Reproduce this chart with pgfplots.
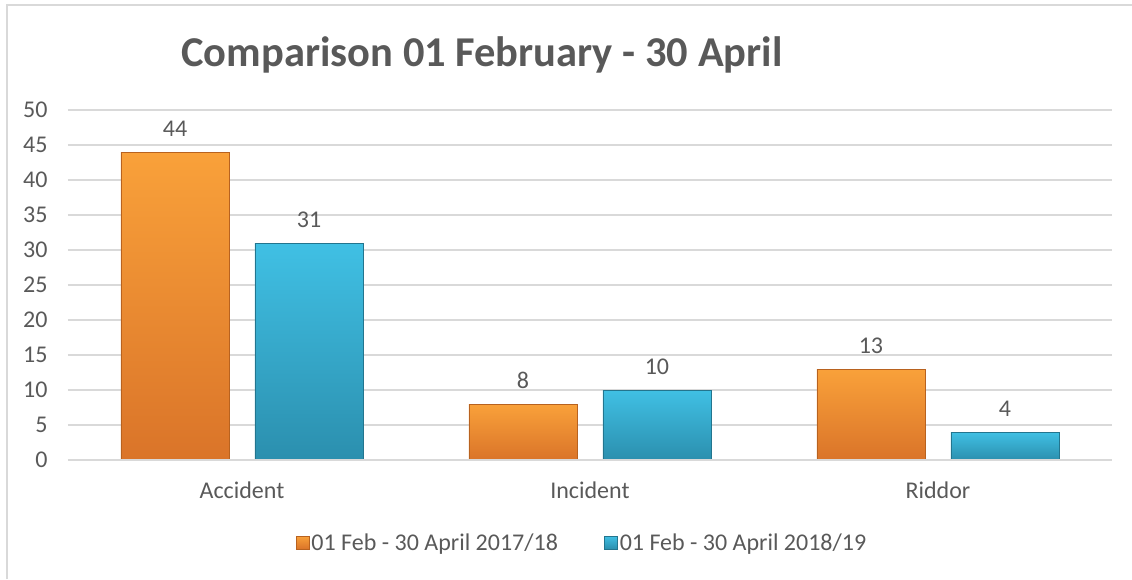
\documentclass[border=0pt]{standalone}
\usepackage{pgfplots}
\pgfplotsset{compat=1.18}
\usepackage{fontspec}
\setmainfont{Carlito}
\definecolor{txt}{HTML}{595959}
\definecolor{gridc}{HTML}{D9D9D9}
\definecolor{orT}{HTML}{F9A13A}
\definecolor{orB}{HTML}{DA7429}
\definecolor{orE}{HTML}{B8621F}
\definecolor{cyT}{HTML}{40C0E4}
\definecolor{cyB}{HTML}{2B8FAE}
\definecolor{cyE}{HTML}{23758E}
\begin{document}
\begin{tikzpicture}[x=1pt,y=1pt]
\useasboundingbox (-68,-119) rectangle (1064,460);
\draw[gridc, line width=1.2pt] (-61,-119) -- (-61,455) -- (1064,455);
\begin{axis}[
  at={(0,0)}, anchor=south west,
  scale only axis, width=1044pt, height=350pt,
  xmin=-0.5, xmax=2.5, ymin=0, ymax=50,
  xtick={0,1,2}, xticklabels={Accident,Incident,Riddor},
  ytick={0,5,...,50},
  xmajorgrids=false, ymajorgrids=true,
  major grid style={draw=gridc, line width=1.2pt},
  axis line style={draw=none},
  major tick length=0pt,
  tick label style={font=\fontsize{24}{28}\selectfont, text=txt},
  /pgf/number format/assume math mode=true,
  yticklabel style={xshift=-17pt},
  xticklabel style={yshift=-18pt},
  ybar, bar width=108pt,
  nodes near coords,
  every node near coord/.append style={font=\fontsize{24}{28}\selectfont, text=txt, yshift=12pt},
  legend style={at={(514/1044,-83/350)}, anchor=center, draw=none, fill=none,
    font=\fontsize{24}{28}\selectfont, text=txt, legend columns=2,
    /tikz/every even column/.append style={column sep=44pt}},
  legend image code/.code={\draw[#1] (-2pt,-6pt) rectangle (11pt,7pt);},
  clip=false,
]
\addplot[bar shift=-67pt, draw=orE, line width=0.8pt, top color=orT, bottom color=orB] coordinates {(0,44)};
\addplot[bar shift=67pt, draw=cyE, line width=0.8pt, top color=cyT, bottom color=cyB] coordinates {(0,31)};
\addplot[forget plot, bar shift=-67pt, draw=orE, line width=0.8pt, top color=orT, bottom color=orB] coordinates {(1,8)};
\addplot[forget plot, bar shift=67pt, draw=cyE, line width=0.8pt, top color=cyT, bottom color=cyB] coordinates {(1,10)};
\addplot[forget plot, bar shift=-67pt, draw=orE, line width=0.8pt, top color=orT, bottom color=orB] coordinates {(2,13)};
\addplot[forget plot, bar shift=67pt, draw=cyE, line width=0.8pt, top color=cyT, bottom color=cyB] coordinates {(2,4)};
\draw[gridc, line width=1.2pt] (rel axis cs:0,0) -- (rel axis cs:1,0);
\legend{01 Feb - 30 April 2017/18, 01 Feb - 30 April 2018/19}
\end{axis}
\node[text=txt, font=\fontsize{42.5}{48}\bfseries, anchor=base, inner sep=0pt] at (414,393) {Comparison 01 February - 30 April};
\end{tikzpicture}
\end{document}
